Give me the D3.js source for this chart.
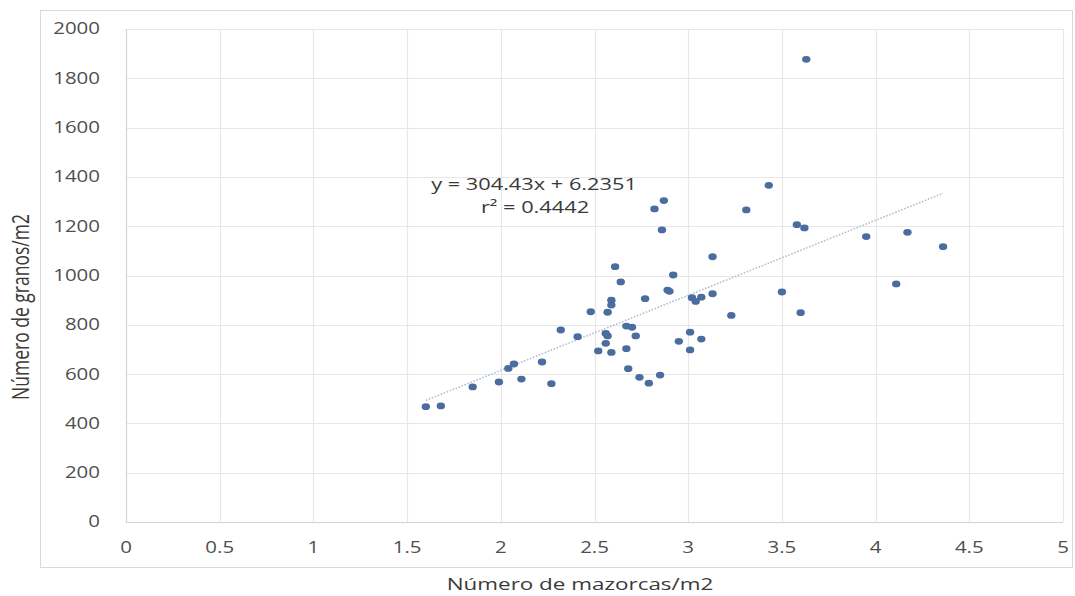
<!DOCTYPE html>
<html>
<head>
<meta charset="utf-8">
<script src="https://cdn.jsdelivr.net/npm/d3@7"></script>
<style>
  html, body { margin: 0; padding: 0; background: #ffffff; }
  svg { display: block; }
  text { font-family: "Open Sans", "DejaVu Sans", sans-serif; }
</style>
</head>
<body>
<svg id="chart" width="1075" height="596"></svg>
<script>
// Mazorcas por m2 (x) y granos por m2 (y) de cada parcela
const mazorcas = [
  1.60, 1.68, 1.85, 1.99, 2.04, 2.07, 2.11, 2.22, 2.27, 2.32,
  2.41, 2.48, 2.52, 2.56, 2.57, 2.56, 2.59, 2.57, 2.59, 2.59,
  2.61, 2.64, 2.67, 2.70, 2.72, 2.67, 2.68, 2.74, 2.79, 2.85,
  2.77, 2.82, 2.87, 2.86, 2.92, 2.89, 2.90, 2.95, 3.01, 3.01,
  3.07, 3.02, 3.04, 3.07, 3.13, 3.13, 3.23, 3.31, 3.43, 3.50,
  3.58, 3.62, 3.60, 3.95, 4.11, 4.17, 4.36, 3.63
];
const granos = [
  468, 471, 548, 568, 623, 641, 580, 649, 561, 779,
  752, 853, 694, 765, 755, 725, 688, 851, 900, 880,
  1036, 974, 795, 790, 755, 703, 622, 587, 563, 596,
  906, 1270, 1304, 1185, 1002, 941, 936, 733, 770, 698,
  742, 910, 895, 912, 1076, 926, 838, 1266, 1366, 933,
  1206, 1193, 849, 1158, 966, 1175, 1117, 1877
];

// Regresión lineal ajustada
const pendiente = 304.43;
const intercepto = 6.2351;
const r2 = 0.4442;

const xTicks = [0, 0.5, 1, 1.5, 2, 2.5, 3, 3.5, 4, 4.5, 5];
const yTicks = [0, 200, 400, 600, 800, 1000, 1200, 1400, 1600, 1800, 2000];

const xTitle = "Número de mazorcas/m2";
const yTitle = "Número de granos/m2";

const svg = d3.select("#chart");
const plot = { left: 126, right: 1063, top: 29, bottom: 522 };
const stretch = 1.32; // horizontal widening of lettering

const x = d3.scaleLinear().domain([0, 5]).range([plot.left, plot.right]);
const y = d3.scaleLinear().domain([0, 2000]).range([plot.bottom, plot.top]);

// Outer chart frame
svg.append("rect")
  .attr("x", 40.5).attr("y", 10.5)
  .attr("width", 1032).attr("height", 557)
  .attr("fill", "#ffffff")
  .attr("stroke", "#d9d9d9");

// Grid lines
const grid = svg.append("g");
grid.selectAll("line.h").data(yTicks.slice(1)).join("line")
  .attr("x1", plot.left).attr("x2", plot.right)
  .attr("y1", d => Math.round(y(d)) + 0.5).attr("y2", d => Math.round(y(d)) + 0.5)
  .attr("stroke", "#e7e7e7").attr("stroke-width", 1.2);
grid.selectAll("line.v").data(xTicks.slice(1)).join("line")
  .attr("y1", plot.top).attr("y2", plot.bottom)
  .attr("x1", d => Math.round(x(d)) + 0.5).attr("x2", d => Math.round(x(d)) + 0.5)
  .attr("stroke", "#e7e7e7").attr("stroke-width", 1.2);

// Axis lines
svg.append("line")
  .attr("x1", plot.left).attr("x2", plot.right)
  .attr("y1", Math.round(y(0)) + 0.5).attr("y2", Math.round(y(0)) + 0.5)
  .attr("stroke", "#d4d4d4").attr("stroke-width", 1.2);
svg.append("line")
  .attr("x1", Math.round(x(0)) + 0.5).attr("x2", Math.round(x(0)) + 0.5)
  .attr("y1", plot.top).attr("y2", plot.bottom)
  .attr("stroke", "#d4d4d4").attr("stroke-width", 1.2);

// Tick labels
svg.append("g").selectAll("text").data(yTicks).join("text")
  .attr("transform", d => `translate(100,${y(d)}) scale(${stretch},1)`)
  .attr("text-anchor", "end")
  .attr("dy", "0.35em")
  .attr("font-size", 15.5)
  .attr("fill", "#4f4f4f")
  .text(d => d);

svg.append("g").selectAll("text").data(xTicks).join("text")
  .attr("transform", d => `translate(${x(d)},548) scale(${stretch},1)`)
  .attr("text-anchor", "middle")
  .attr("dy", "0.35em")
  .attr("font-size", 15.5)
  .attr("fill", "#4f4f4f")
  .text(d => d);

// Axis titles
svg.append("text")
  .attr("transform", `translate(580,584) scale(${stretch},1)`)
  .attr("text-anchor", "middle")
  .attr("dy", "0.35em")
  .attr("font-size", 17)
  .attr("fill", "#3a3a3a")
  .text(xTitle);

svg.append("text")
  .attr("transform", `translate(21,307) rotate(-90) scale(1,${stretch})`)
  .attr("text-anchor", "middle")
  .attr("dy", "0.35em")
  .attr("font-size", 17.5)
  .attr("fill", "#3a3a3a")
  .text(yTitle);

// Trend line across the observed range
const xMin = d3.min(mazorcas), xMax = d3.max(mazorcas);
svg.append("line")
  .attr("x1", x(xMin)).attr("y1", y(pendiente * xMin + intercepto))
  .attr("x2", x(xMax)).attr("y2", y(pendiente * xMax + intercepto))
  .attr("stroke", "#b3bfd6")
  .attr("stroke-width", 1.6)
  .attr("stroke-dasharray", "1.6,1.6");

// Data points
const pts = d3.zip(mazorcas, granos);
svg.append("g").selectAll("ellipse").data(pts).join("ellipse")
  .attr("cx", d => x(d[0]))
  .attr("cy", d => y(d[1]))
  .attr("rx", 4.2)
  .attr("ry", 3.4)
  .attr("fill", "#4a6c9e");

// Regression equation
const eq = svg.append("g").attr("fill", "#3a3a3a");
eq.append("text")
  .attr("transform", `translate(534,184) scale(${stretch},1)`)
  .attr("text-anchor", "middle")
  .attr("dy", "0.35em")
  .attr("font-size", 16.5)
  .text(`y = ${pendiente}x + ${intercepto}`);
eq.append("text")
  .attr("transform", `translate(535,207) scale(${stretch},1)`)
  .attr("text-anchor", "middle")
  .attr("dy", "0.35em")
  .attr("font-size", 16.5)
  .text(`r² = ${r2}`);
</script>
</body>
</html>
